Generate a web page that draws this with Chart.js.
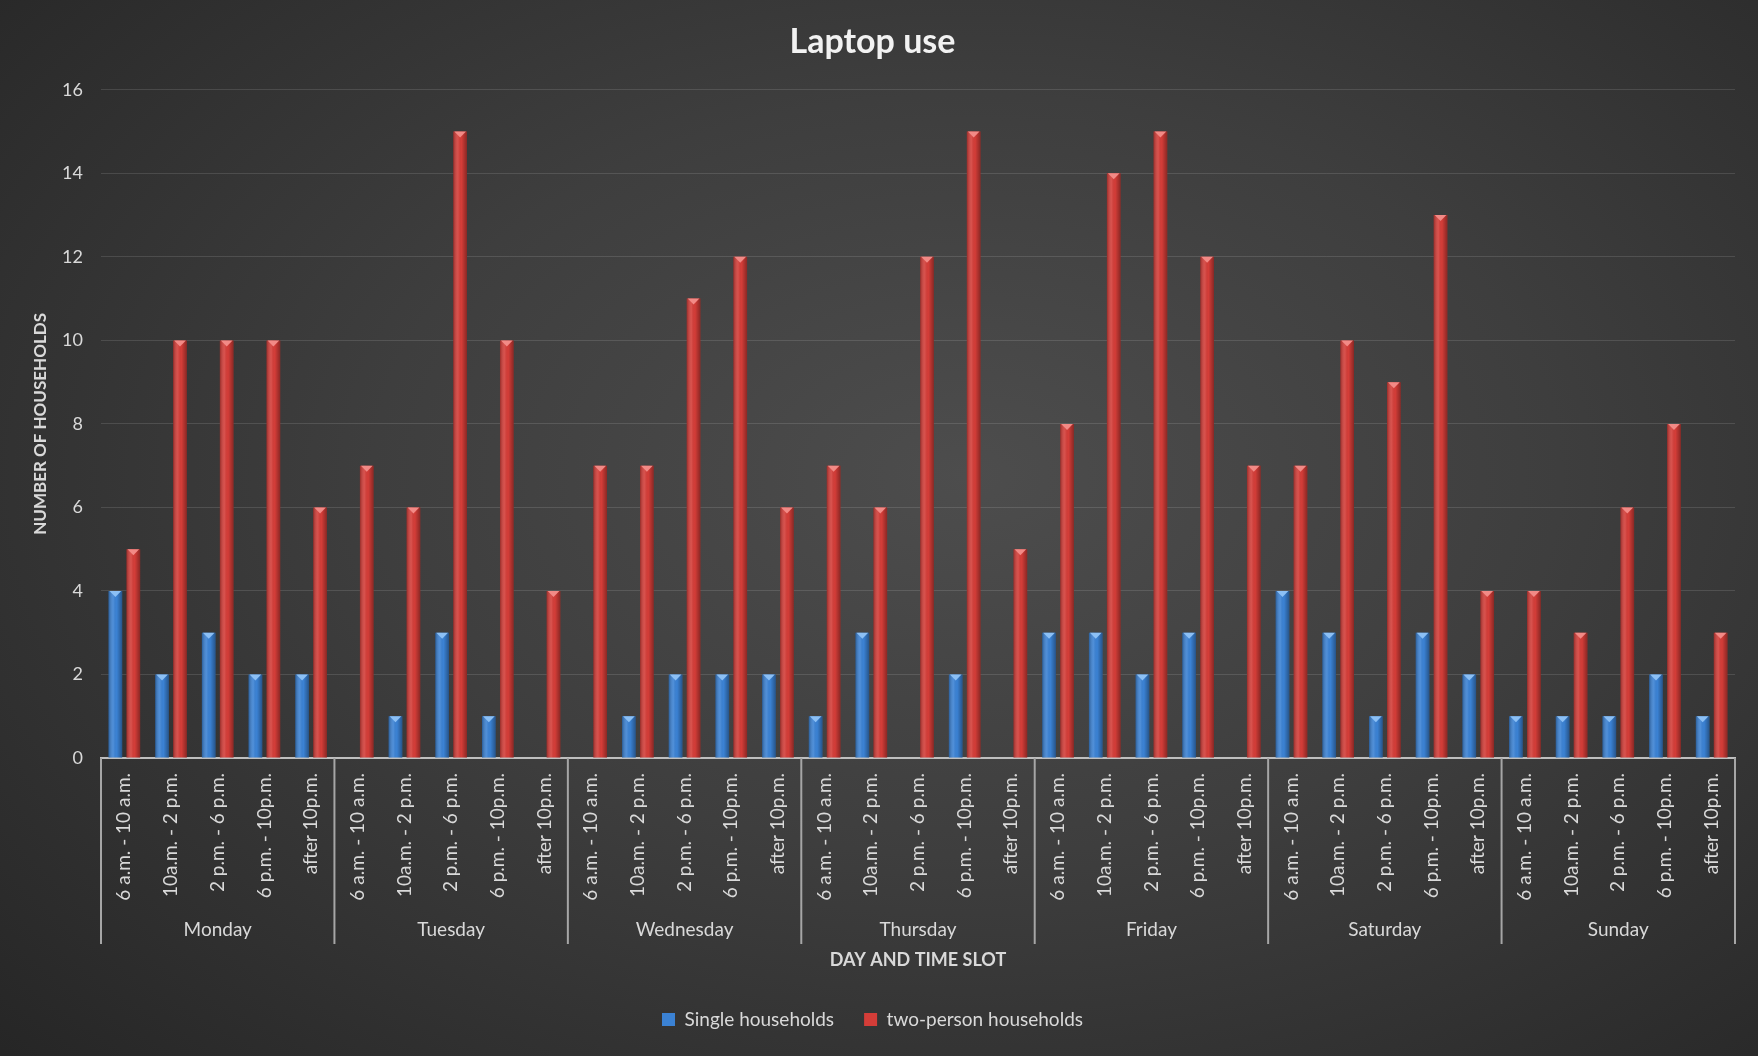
<!DOCTYPE html>
<html>
<head>
<meta charset="utf-8">
<title>Laptop use</title>
<script src="https://cdn.jsdelivr.net/npm/chart.js@4.4.1/dist/chart.umd.min.js"></script>
<style>
    html, body { margin: 0; padding: 0; }
    body {
        width: 1758px; height: 1056px; overflow: hidden;
        background: radial-gradient(ellipse 75% 80% at 55% 45%, #4d4d4d 0%, #3e3e3e 45%, #262626 100%);
    }
    #wrap { position: relative; width: 1758px; height: 1056px; }
</style>
</head>
<body>
<div id="wrap"><canvas id="laptopChart"></canvas></div>
<script>
var days = ['Monday', 'Tuesday', 'Wednesday', 'Thursday', 'Friday', 'Saturday', 'Sunday'];
var slots = ['6 a.m. - 10 a.m.', '10a.m. - 2 p.m.', '2 p.m. - 6 p.m.', '6 p.m. - 10p.m.', 'after 10p.m.'];

// one row per day, one value per time slot
var singleHouseholds = [
    4, 2, 3, 2, 2,
    0, 1, 3, 1, 0,
    0, 1, 2, 2, 2,
    1, 3, 0, 2, 0,
    3, 3, 2, 3, 0,
    4, 3, 1, 3, 2,
    1, 1, 1, 2, 1
];
var twoPersonHouseholds = [
    5, 10, 10, 10, 6,
    7, 6, 15, 10, 4,
    7, 7, 11, 12, 6,
    7, 6, 12, 15, 5,
    8, 14, 15, 12, 7,
    7, 10, 9, 13, 4,
    4, 3, 6, 8, 3
];
var yMin = 0, yMax = 16, yStep = 2;

var textColor = '#d9d9d9';
var fontFamily = 'Lato, "Open Sans", sans-serif';

var labels = [];
days.forEach(function () {
    slots.forEach(function (s) { labels.push(s); });
});

// day names + separators under the slot labels
var dayGroups = {
    id: 'dayGroups',
    afterDraw: function (chart) {
        var x = chart.scales.x;
        var ctx = chart.ctx;
        var half = (x.getPixelForValue(1) - x.getPixelForValue(0)) / 2;
        var top = x.top;
        ctx.save();
        ctx.strokeStyle = '#a6a6a6';
        ctx.lineWidth = 2;
        for (var i = 0; i <= days.length; i++) {
            var px = i < days.length ? x.getPixelForValue(i * slots.length) - half
                                     : x.getPixelForValue(i * slots.length - 1) + half;
            ctx.beginPath();
            ctx.moveTo(px, top);
            ctx.lineTo(px, top + 186);
            ctx.stroke();
        }
        ctx.fillStyle = textColor;
        ctx.font = '19px ' + fontFamily;
        ctx.textAlign = 'center';
        ctx.textBaseline = 'middle';
        for (var d = 0; d < days.length; d++) {
            var l = x.getPixelForValue(d * slots.length) - half;
            var r = x.getPixelForValue(d * slots.length + slots.length - 1) + half;
            ctx.fillText(days[d], (l + r) / 2, top + 172);
        }
        ctx.restore();
    }
};

// rounded shading and little pyramid cap on every bar
var barShading = {
    id: 'barShading',
    afterDatasetsDraw: function (chart) {
        var ctx = chart.ctx;
        var caps = ['#8cc0f5', '#f28a86'];
        chart.data.datasets.forEach(function (ds, di) {
            var meta = chart.getDatasetMeta(di);
            meta.data.forEach(function (el) {
                var p = el.getProps(['x', 'y', 'base', 'width'], true);
                var h = p.base - p.y;
                if (h <= 0) return;
                var l = p.x - p.width / 2;
                var g = ctx.createLinearGradient(l, 0, l + p.width, 0);
                g.addColorStop(0, 'rgba(0,0,0,0.28)');
                g.addColorStop(0.35, 'rgba(255,255,255,0.10)');
                g.addColorStop(0.6, 'rgba(0,0,0,0.0)');
                g.addColorStop(1, 'rgba(0,0,0,0.35)');
                ctx.save();
                ctx.fillStyle = g;
                ctx.fillRect(l, p.y, p.width, h);
                ctx.fillStyle = caps[di];
                ctx.beginPath();
                ctx.moveTo(l + 1, p.y);
                ctx.lineTo(l + p.width - 1, p.y);
                ctx.lineTo(p.x, p.y + 6);
                ctx.closePath();
                ctx.fill();
                ctx.restore();
            });
        });
    }
};

var ctx = document.getElementById('laptopChart').getContext('2d');
var laptopChart = new Chart(ctx, {
    type: 'bar',
    data: {
        labels: labels,
        datasets: [
            { label: 'Single households', data: singleHouseholds, backgroundColor: '#3b82d4' },
            { label: 'two-person households', data: twoPersonHouseholds, backgroundColor: '#d43d38' }
        ]
    },
    options: {
        responsive: true,
        maintainAspectRatio: false,
        animation: false,
        categoryPercentage: 0.77,
        barPercentage: 0.76,
        layout: { padding: { left: 10, right: 23, top: 0, bottom: 17 } },
        plugins: {
            title: {
                display: true,
                text: 'Laptop use',
                color: '#f2f2f2',
                font: { family: fontFamily, size: 34, weight: 'bold' },
                padding: { top: 22, bottom: 27 }
            },
            legend: {
                position: 'bottom',
                labels: {
                    color: textColor,
                    font: { family: fontFamily, size: 19 },
                    boxWidth: 13,
                    boxHeight: 13,
                    padding: 30
                }
            },
            tooltip: { enabled: false }
        },
        scales: {
            x: {
                grid: { display: false, drawTicks: false },
                border: { display: true, color: '#bfbfbf', width: 2 },
                ticks: {
                    color: textColor,
                    font: { family: fontFamily, size: 19 },
                    minRotation: 90,
                    maxRotation: 90,
                    autoSkip: false,
                    padding: 15
                },
                title: {
                    display: true,
                    text: 'DAY AND TIME SLOT',
                    color: textColor,
                    font: { family: fontFamily, size: 18, weight: 'bold' },
                    padding: { top: 0, bottom: 9 }
                },
                afterFit: function (scale) { scale.height = 222; }
            },
            y: {
                min: yMin,
                max: yMax,
                ticks: {
                    stepSize: yStep,
                    color: textColor,
                    font: { family: fontFamily, size: 18 },
                    padding: 18
                },
                grid: { color: 'rgba(255,255,255,0.12)', lineWidth: 1, drawTicks: false },
                border: { display: false },
                title: {
                    display: true,
                    text: 'NUMBER OF HOUSEHOLDS',
                    color: textColor,
                    font: { family: fontFamily, size: 17, weight: 'bold' },
                    padding: { top: 20, bottom: 0 }
                },
                afterFit: function (scale) { scale.width = 91; }
            }
        }
    },
    plugins: [dayGroups, barShading]
});
</script>
</body>
</html>
